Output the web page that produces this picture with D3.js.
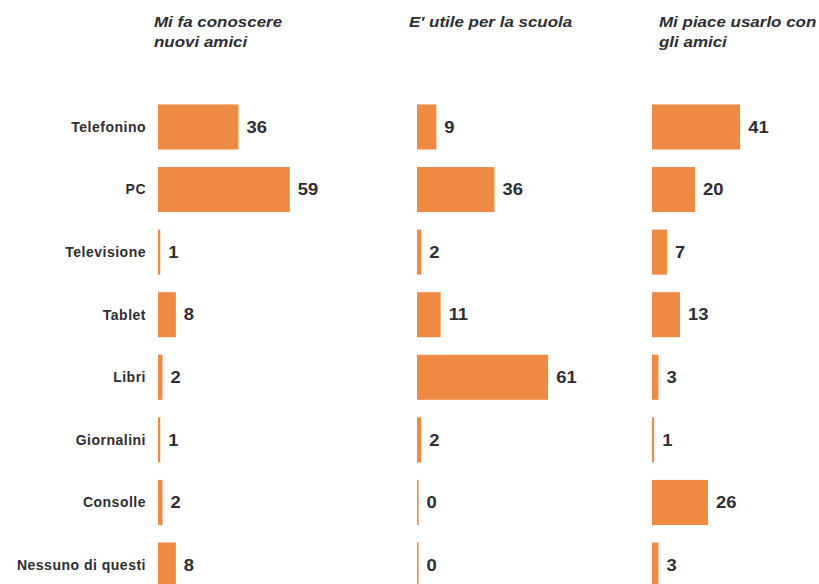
<!DOCTYPE html>
<html>
<head>
<meta charset="utf-8">
<script src="https://cdn.jsdelivr.net/npm/d3@7"></script>
<style>
  html, body { margin: 0; padding: 0; background: #fff; }
  svg { display: block; }
</style>
</head>
<body>
<svg id="chart" width="819" height="584"></svg>
<script>
// Survey answers per device, one array per question
const categories = ["Telefonino", "PC", "Televisione", "Tablet", "Libri", "Giornalini", "Consolle", "Nessuno di questi"];
const titles = [
  ["Mi fa conoscere", "nuovi amici"],
  ["E' utile per la scuola"],
  ["Mi piace usarlo con", "gli amici"]
];
const conoscereAmici = [36, 59, 1, 8, 2, 1, 2, 8];
const utileScuola = [9, 36, 2, 11, 61, 2, 0, 0];
const usarloConAmici = [41, 20, 7, 13, 3, 1, 26, 3];
const seriesValues = [conoscereAmici, utileScuola, usarloConAmici];

const svg = d3.select("#chart");
const barColor = "#ef8a45";
const textColor = "#2e2e33";
const font = "Liberation Sans, Arial, sans-serif";

// shared row layout: 8 rows, ~62.6px apart, bars 45px tall
const y = d3.scaleBand()
  .domain(categories)
  .range([95.7, 596.3])
  .paddingInner(0.28)
  .paddingOuter(0.14);

// panel layout: bar origin and scale length per question
const panels = [
  { x0: 158, len: 134, titleX: 154 },
  { x0: 417, len: 129, titleX: 409 },
  { x0: 652, len: 129, titleX: 659 }
];

// category labels on the left
svg.append("g")
  .selectAll("text")
  .data(categories)
  .join("text")
  .attr("x", 146)
  .attr("y", d => y(d) + y.bandwidth() / 2)
  .attr("dy", "0.35em")
  .attr("text-anchor", "end")
  .attr("font-family", font)
  .attr("font-weight", "bold")
  .attr("font-size", 14)
  .attr("letter-spacing", 0.5)
  .attr("fill", textColor)
  .text(d => d);

panels.forEach((p, i) => {
  const vals = seriesValues[i];
  const rows = vals.map((v, k) => ({ v, c: categories[k] }));
  const x = d3.scaleLinear().domain([0, 60]).range([p.x0, p.x0 + p.len]);
  const g = svg.append("g");

  // question title, set in a slightly widened bold italic
  g.append("text")
    .attr("transform", `translate(${p.titleX},0) scale(1.17,1)`)
    .attr("font-family", font)
    .attr("font-weight", "bold")
    .attr("font-style", "italic")
    .attr("font-size", 14.5)
    .attr("fill", textColor)
    .selectAll("tspan")
    .data(titles[i])
    .join("tspan")
    .attr("x", 0)
    .attr("y", (d, j) => 27 + j * 20)
    .text(d => d);

  // bars (zero answers still show a hairline at the origin)
  g.selectAll("rect")
    .data(rows)
    .join("rect")
    .attr("x", x(0))
    .attr("y", d => y(d.c))
    .attr("width", d => Math.max(x(d.v) - x(0), 1.6))
    .attr("height", y.bandwidth())
    .attr("fill", barColor);

  // value labels
  g.selectAll("text.val")
    .data(rows)
    .join("text")
    .attr("class", "val")
    .attr("transform", d =>
      `translate(${Math.max(x(d.v), x(0) + 1.6) + 8},${y(d.c) + y.bandwidth() / 2}) scale(1.15,1)`)
    .attr("dy", "0.36em")
    .attr("font-family", font)
    .attr("font-weight", "bold")
    .attr("font-size", 16)
    .attr("fill", textColor)
    .text(d => d.v);
});
</script>
</body>
</html>
